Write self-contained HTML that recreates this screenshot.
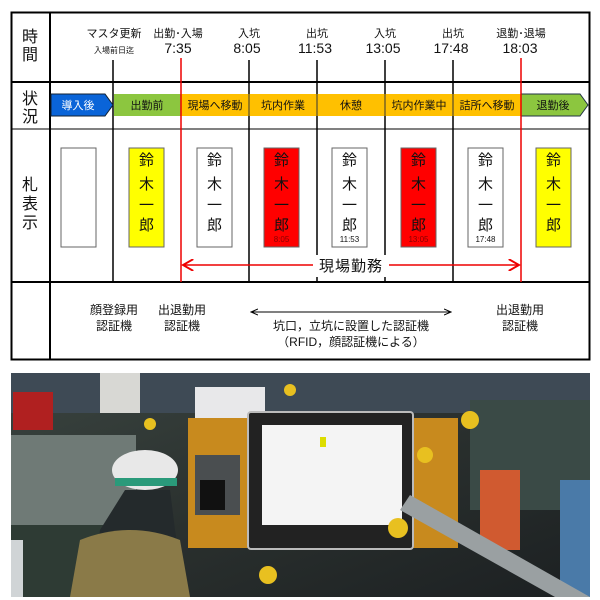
<!DOCTYPE html>
<html><head><meta charset="utf-8"><style>
html,body{margin:0;padding:0;background:#fff;width:600px;height:600px;overflow:hidden}
svg{display:block}
text{font-family:"Liberation Sans","Noto Sans CJK JP",sans-serif;fill:#111}
</style></head><body>
<svg width="600" height="600" viewBox="0 0 600 600">
<defs>
<marker id="ar" markerWidth="8" markerHeight="8" refX="7" refY="4" orient="auto"><path d="M0,0 L7,4 L0,8" fill="none" stroke="#e00" stroke-width="1.3"/></marker>
<marker id="al" markerWidth="8" markerHeight="8" refX="1" refY="4" orient="auto"><path d="M8,0 L1,4 L8,8" fill="none" stroke="#e00" stroke-width="1.3"/></marker>
<marker id="kr" markerWidth="8" markerHeight="8" refX="7" refY="4" orient="auto"><path d="M0,1 L7,4 L0,7" fill="none" stroke="#000" stroke-width="1"/></marker>
<marker id="kl" markerWidth="8" markerHeight="8" refX="1" refY="4" orient="auto"><path d="M8,1 L1,4 L8,7" fill="none" stroke="#000" stroke-width="1"/></marker>
<linearGradient id="bg" x1="0" y1="0" x2="1" y2="1"><stop offset="0" stop-color="#3a4440"/><stop offset="0.5" stop-color="#2a302e"/><stop offset="1" stop-color="#1c2022"/></linearGradient>
</defs>
<rect x="11.5" y="12.5" width="578" height="347" fill="#fff" stroke="#000" stroke-width="2"/>
<line x1="50" y1="12" x2="50" y2="360" stroke="#000" stroke-width="2"/>
<line x1="11" y1="82" x2="590" y2="82" stroke="#000" stroke-width="2"/>
<line x1="11" y1="129" x2="590" y2="129" stroke="#000" stroke-width="1"/>
<line x1="11" y1="282" x2="590" y2="282" stroke="#000" stroke-width="2"/>
<g stroke="#000" stroke-width="1.5">
<line x1="113" y1="60" x2="113" y2="282"/>
<line x1="249" y1="60" x2="249" y2="282"/>
<line x1="317" y1="60" x2="317" y2="282"/>
<line x1="385" y1="60" x2="385" y2="282"/>
<line x1="453" y1="60" x2="453" y2="282"/>
</g>
<g font-size="16" text-anchor="middle">
<text x="30" y="42">時</text><text x="30" y="60">間</text>
<text x="30" y="104">状</text><text x="30" y="122">況</text>
<text x="30" y="190">札</text><text x="30" y="209">表</text><text x="30" y="228">示</text>
</g>
<g font-size="11" text-anchor="middle">
<text x="114" y="37">マスタ更新</text>
<text x="178" y="37">出勤･入場</text>
<text x="249" y="37">入坑</text>
<text x="317" y="37">出坑</text>
<text x="385" y="37">入坑</text>
<text x="453" y="37">出坑</text>
<text x="521" y="37">退勤･退場</text>
</g>
<text x="114" y="53" font-size="8" text-anchor="middle">入場前日迄</text>
<g font-size="14" text-anchor="middle">
<text x="178" y="53">7:35</text>
<text x="247" y="53">8:05</text>
<text x="315" y="53">11:53</text>
<text x="383" y="53">13:05</text>
<text x="451" y="53">17:48</text>
<text x="520" y="53">18:03</text>
</g>
<path d="M51,94 H105 L113,105 L105,116 H51 Z" fill="#0a64d8" stroke="#123" stroke-width="1"/>
<rect x="114" y="94" width="67" height="22" fill="#8cc63f"/>
<rect x="181" y="94" width="340" height="22" fill="#ffc000"/>
<path d="M521,94 H580 L588,105 L580,116 H521 Z" fill="#8cc63f" stroke="#234" stroke-width="1"/>
<g stroke="#333" stroke-width="1"><line x1="249" y1="94" x2="249" y2="116"/><line x1="317" y1="94" x2="317" y2="116"/><line x1="385" y1="94" x2="385" y2="116"/><line x1="453" y1="94" x2="453" y2="116"/></g>
<g font-size="11" text-anchor="middle">
<text x="78" y="109" style="fill:#fff">導入後</text>
<text x="147" y="109">出勤前</text>
<text x="215" y="109">現場へ移動</text>
<text x="283" y="109">坑内作業</text>
<text x="351" y="109">休憩</text>
<text x="419" y="109">坑内作業中</text>
<text x="487" y="109">詰所へ移動</text>
<text x="553" y="109">退勤後</text>
</g>
<line x1="181" y1="58" x2="181" y2="282" stroke="#e00" stroke-width="1.5"/>
<line x1="521" y1="58" x2="521" y2="282" stroke="#e00" stroke-width="1.5"/>
<g stroke="#666" stroke-width="1">
<rect x="61" y="148" width="35" height="99" fill="#fff"/>
<rect x="129" y="148" width="35" height="99" fill="#ffff00"/>
<rect x="197" y="148" width="35" height="99" fill="#fff"/>
<rect x="264" y="148" width="35" height="99" fill="#f00"/>
<rect x="332" y="148" width="35" height="99" fill="#fff"/>
<rect x="401" y="148" width="35" height="99" fill="#f00"/>
<rect x="468" y="148" width="35" height="99" fill="#fff"/>
<rect x="536" y="148" width="35" height="99" fill="#ffff00"/>
</g>
<g font-size="15" text-anchor="middle">
<g transform="translate(146.5,0)"><text y="165">鈴</text><text y="189">木</text><text y="210">一</text><text y="230">郎</text></g>
<g transform="translate(214.5,0)"><text y="165">鈴</text><text y="189">木</text><text y="210">一</text><text y="230">郎</text></g>
<g transform="translate(281.5,0)"><text y="165">鈴</text><text y="189">木</text><text y="210">一</text><text y="230">郎</text></g>
<g transform="translate(349.5,0)"><text y="165">鈴</text><text y="189">木</text><text y="210">一</text><text y="230">郎</text></g>
<g transform="translate(418.5,0)"><text y="165">鈴</text><text y="189">木</text><text y="210">一</text><text y="230">郎</text></g>
<g transform="translate(485.5,0)"><text y="165">鈴</text><text y="189">木</text><text y="210">一</text><text y="230">郎</text></g>
<g transform="translate(553.5,0)"><text y="165">鈴</text><text y="189">木</text><text y="210">一</text><text y="230">郎</text></g>
</g>
<g font-size="8" text-anchor="middle">
<text x="281.5" y="242" style="fill:#800">8:05</text>
<text x="349.5" y="242">11:53</text>
<text x="418.5" y="242" style="fill:#800">13:05</text>
<text x="485.5" y="242">17:48</text>
</g>
<line x1="183" y1="265" x2="519" y2="265" stroke="#e00" stroke-width="1.5" marker-start="url(#al)" marker-end="url(#ar)"/>
<rect x="313" y="255" width="76" height="22" fill="#fff"/>
<text x="351" y="271" font-size="15" text-anchor="middle" letter-spacing="1">現場勤務</text>
<g font-size="12" text-anchor="middle" style="fill:#333">
<text x="114" y="314">顔登録用</text><text x="114" y="330">認証機</text>
<text x="182" y="314">出退勤用</text><text x="182" y="330">認証機</text>
<text x="520" y="314">出退勤用</text><text x="520" y="330">認証機</text>
<text x="351" y="330">坑口，立坑に設置した認証機</text>
<text x="351" y="346">（RFID，顔認証機による）</text>
</g>
<line x1="251" y1="312" x2="451" y2="312" stroke="#000" stroke-width="1" marker-start="url(#kl)" marker-end="url(#kr)"/>
<rect x="11" y="373" width="579" height="224" fill="url(#bg)"/>
<rect x="11" y="373" width="579" height="40" fill="#3e4a55"/>
<rect x="11" y="435" width="125" height="90" fill="#6f7a76"/>
<rect x="11" y="525" width="125" height="72" fill="#2e3b34"/>
<rect x="13" y="392" width="40" height="38" fill="#b02020"/>
<rect x="100" y="373" width="40" height="40" fill="#d8d8d4"/>
<rect x="195" y="387" width="70" height="70" fill="#e8e8ea"/>
<rect x="188" y="418" width="270" height="130" fill="#c88a1e"/>
<rect x="470" y="400" width="120" height="110" fill="#3a4a46"/>
<rect x="480" y="470" width="40" height="80" fill="#d05a30"/>
<rect x="560" y="480" width="30" height="117" fill="#4a7aa8"/>
<rect x="195" y="455" width="45" height="60" fill="#4a4e50"/>
<rect x="200" y="480" width="25" height="30" fill="#111"/>
<rect x="248" y="412" width="165" height="137" rx="3" fill="#222" stroke="#bbb" stroke-width="2"/>
<rect x="262" y="425" width="140" height="100" fill="#f4f4f4"/>
<rect x="320" y="437" width="6" height="10" fill="#dd0"/>
<path d="M400,510 L555,597 L590,597 L410,495 Z" fill="#9aa0a2"/>
<ellipse cx="145" cy="470" rx="33" ry="20" fill="#e8e8e8"/>
<rect x="115" y="478" width="62" height="8" fill="#2a9a7a"/>
<path d="M125,490 L170,490 L175,530 L185,597 L90,597 L100,530 Z" fill="#242a2c"/>
<path d="M80,540 Q130,520 180,540 L190,597 L70,597 Z" fill="#8a7a48"/>
<circle cx="150" cy="424" r="6" fill="#e8c020"/><circle cx="398" cy="528" r="10" fill="#e8c020"/>
<circle cx="425" cy="455" r="8" fill="#e8c020"/><circle cx="470" cy="420" r="9" fill="#e8c020"/>
<circle cx="268" cy="575" r="9" fill="#e8c020"/><circle cx="290" cy="390" r="6" fill="#e8c020"/>
<rect x="11" y="540" width="12" height="57" fill="#d0d4d6"/>
</svg>
</body></html>
